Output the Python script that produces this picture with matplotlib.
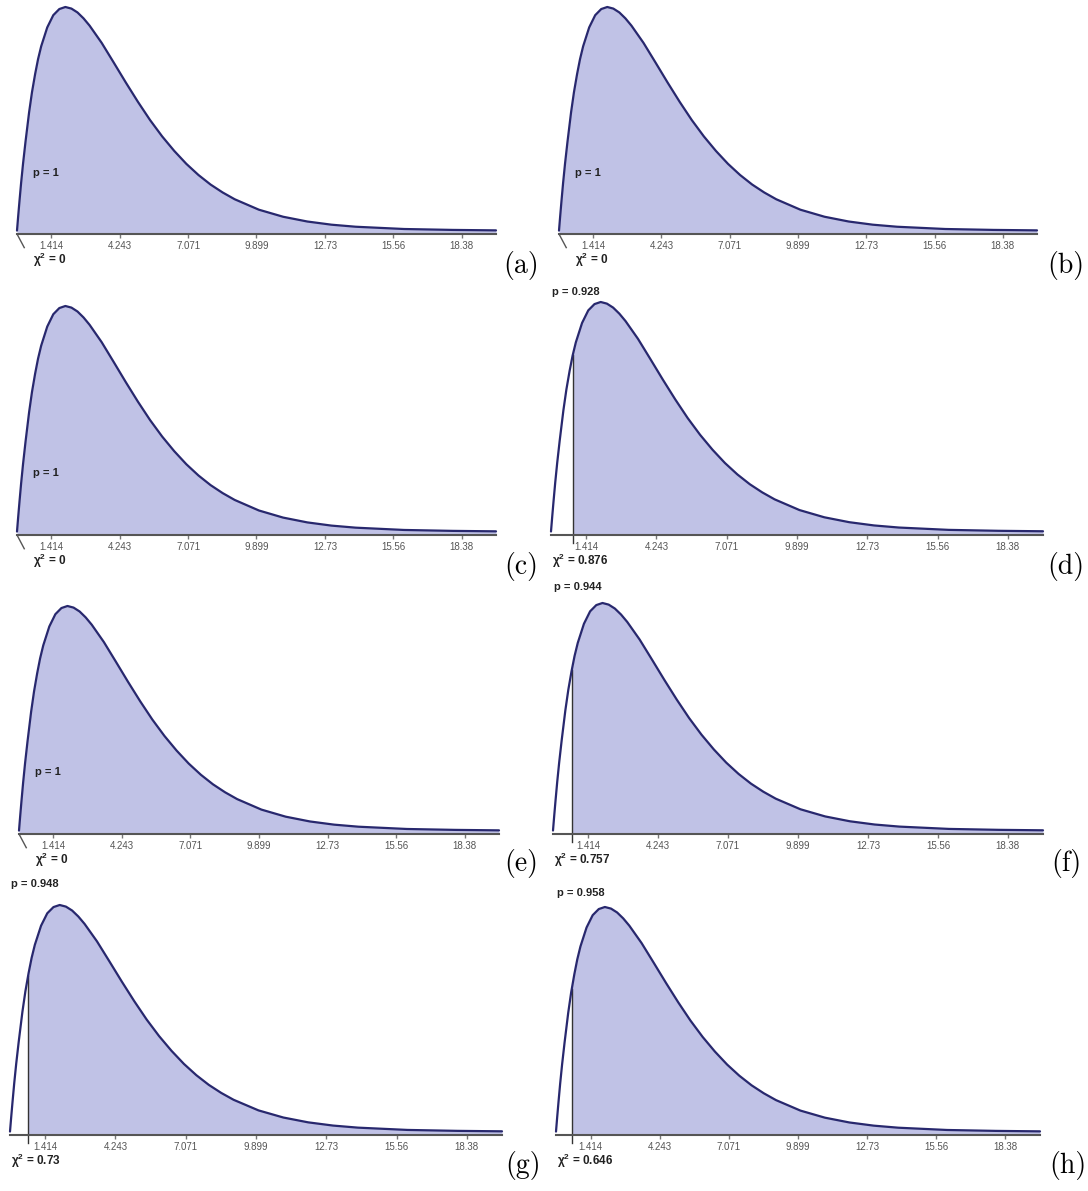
import numpy as np
import matplotlib
matplotlib.use('Agg')
import matplotlib.pyplot as plt

plt.rcParams['font.family'] = ['Liberation Sans', 'DejaVu Sans']
plt.rcParams['mathtext.fontset'] = 'custom'
plt.rcParams['mathtext.rm'] = 'Liberation Sans:bold'
plt.rcParams['mathtext.it'] = 'Liberation Sans:bold'
plt.rcParams['mathtext.bf'] = 'Liberation Sans:bold'

# curve height above the axis line (peak = 1); same curve in every panel
curve_x = [0, 0.05, 0.1, 0.17, 0.25, 0.35, 0.5, 0.62, 0.75, 0.87, 1.0, 1.25, 1.5, 1.75, 2.0,
           2.25, 2.5, 2.75, 3.0, 3.5, 4.0, 4.5, 5.0, 5.5, 6.0, 6.5, 7.0, 7.5, 8.0, 8.5, 9.0,
           10, 11, 12, 13, 14, 16, 18, 19.8]
curve_y = [0.015, 0.08, 0.142, 0.225, 0.31, 0.405, 0.536, 0.625, 0.705, 0.77, 0.827, 0.910,
           0.964, 0.991, 1.0, 0.993, 0.976, 0.950, 0.918, 0.842, 0.755, 0.667, 0.582, 0.502,
           0.430, 0.366, 0.309, 0.260, 0.218, 0.183, 0.153, 0.107, 0.076, 0.055, 0.041,
           0.032, 0.022, 0.018, 0.016]

tick_pos = [1.414, 4.243, 7.071, 9.899, 12.73, 15.56, 18.38]
tick_lbl = ['1.414', '4.243', '7.071', '9.899', '12.73', '15.56', '18.38']

tags = ['(a)', '(b)', '(c)', '(d)', '(e)', '(f)', '(g)', '(h)']
chi_vals = [0, 0, 0, 0.876, 0, 0.757, 0.73, 0.646]
chi_txt = ['0', '0', '0', '0.876', '0', '0.757', '0.73', '0.646']
p_txt = ['1', '1', '1', '0.928', '1', '0.944', '0.948', '0.958']

# panel boxes in pixels: left, right, top (peak), axis line
boxes = [(17, 496, 7, 234), (559, 1037, 7, 234),
         (17, 496, 306, 535), (551, 1043, 302, 535),
         (19, 499, 606, 834), (553, 1043, 603, 834),
         (10, 502, 905, 1135), (556, 1040, 907, 1135)]
p_dy = [0, 0, 0, 10, 0, 16, 21, 14]   # pixels of "p = ..." above the panel top
tag_xy = [(521, 266), (1066, 266), (521, 566), (1066, 566),
          (521, 864), (1066, 864), (523, 1166), (1068, 1166)]

W, H = 1088, 1191
fill_c = '#c0c2e6'
line_c = '#28286e'

fig = plt.figure(figsize=(W / 100, H / 100), dpi=100)
xs = np.array(curve_x)
ys = np.array(curve_y)

for i in range(8):
    l, r, t, b = boxes[i]
    ax = fig.add_axes([l / W, 1 - b / H, (r - l) / W, (b - t) / H])
    ax.set_xlim(0, 19.8)
    ax.set_ylim(0, 1)
    chi = chi_vals[i]
    if chi > 0:
        yc = np.interp(chi, xs, ys)
        fx = np.r_[chi, xs[xs > chi]]
        fy = np.r_[yc, ys[xs > chi]]
        ax.fill_between(fx, 0, fy, color=fill_c, lw=0)
        ax.plot([chi, chi], [-0.035, yc], color='#333333', lw=1, clip_on=False)
        ax.annotate('p = ' + p_txt[i], xy=(0, 1), xycoords='axes fraction',
                    xytext=(1, p_dy[i]), textcoords='offset pixels', ha='left', va='center',
                    fontsize=8, fontweight='bold', color='#222222', annotation_clip=False)
        cx = 0.05
    else:
        ax.fill_between(xs, 0, ys, color=fill_c, lw=0)
        ax.plot([0, 0.3], [0, -0.06], color='#555555', lw=1, clip_on=False)
        ax.text(0.66, 0.27, 'p = ' + p_txt[i], ha='left', va='center',
                fontsize=8, fontweight='bold', color='#222222')
        cx = 0.66
    ax.annotate('χ$^2$ = ' + chi_txt[i], xy=(cx, 0), xycoords='data',
                xytext=(0, -26), textcoords='offset pixels', ha='left', va='center',
                fontsize=8.5, fontweight='bold', color='#222222', annotation_clip=False)
    ax.plot(xs, ys, color=line_c, lw=1.6, clip_on=False, solid_capstyle='round')

    for s in ['top', 'right', 'left']:
        ax.spines[s].set_visible(False)
    ax.spines['bottom'].set_color('#555555')
    ax.spines['bottom'].set_linewidth(1.5)
    ax.set_yticks([])
    ax.set_xticks(tick_pos, tick_lbl)
    ax.tick_params(axis='x', length=3, width=1, color='#777777', labelsize=7,
                   labelcolor='#555555', pad=2)
    ax.patch.set_visible(False)

    fig.text(tag_xy[i][0] / W, 1 - tag_xy[i][1] / H, tags[i], family='cmr10',
             fontsize=20, ha='center', va='center')

fig.savefig('out.png', dpi=100)
